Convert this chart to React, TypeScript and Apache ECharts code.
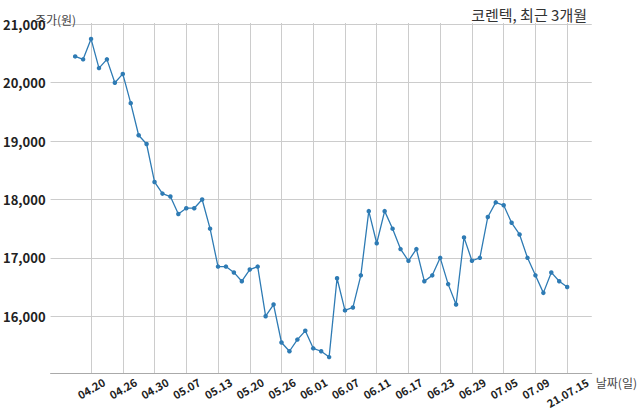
import { useEffect, useRef } from "react";
import * as echarts from "echarts";

// trading days, 2021-04-16 .. 2021-07-15
const dates = [
  "21.04.16", "21.04.19", "21.04.20", "21.04.21", "21.04.22", "21.04.23", "21.04.26", "21.04.27",
  "21.04.28", "21.04.29", "21.04.30", "21.05.03", "21.05.04", "21.05.06", "21.05.07", "21.05.10",
  "21.05.11", "21.05.12", "21.05.13", "21.05.14", "21.05.17", "21.05.18", "21.05.20", "21.05.21",
  "21.05.24", "21.05.25", "21.05.26", "21.05.27", "21.05.28", "21.05.31", "21.06.01", "21.06.02",
  "21.06.03", "21.06.04", "21.06.07", "21.06.08", "21.06.09", "21.06.10", "21.06.11", "21.06.14",
  "21.06.15", "21.06.16", "21.06.17", "21.06.18", "21.06.21", "21.06.22", "21.06.23", "21.06.24",
  "21.06.25", "21.06.28", "21.06.29", "21.06.30", "21.07.01", "21.07.02", "21.07.05", "21.07.06",
  "21.07.07", "21.07.08", "21.07.09", "21.07.12", "21.07.13", "21.07.14", "21.07.15",
];

const prices = [
  20450, 20400, 20750, 20250, 20400, 20000, 20150, 19650,
  19100, 18950, 18300, 18100, 18050, 17750, 17850, 17850,
  18000, 17500, 16850, 16850, 16750, 16600, 16800, 16850,
  16000, 16200, 15550, 15400, 15600, 15750, 15450, 15400,
  15300, 16650, 16100, 16150, 16700, 17800, 17250, 17800,
  17500, 17150, 16950, 17150, 16600, 16700, 17000, 16550,
  16200, 17350, 16950, 17000, 17700, 17950, 17900, 17600,
  17400, 17000, 16700, 16400, 16750, 16600, 16500,
];

const xTicks = [2, 6, 10, 14, 18, 22, 26, 30, 34, 38, 42, 46, 50, 54, 58, 62];
const yTicks = [16000, 17000, 18000, 19000, 20000, 21000];

const FONT = "'Noto Sans CJK KR', 'Noto Sans', sans-serif";
const LINE = "#2e7bb4";

export default function App() {
  const chartRef = useRef<HTMLDivElement>(null);

  useEffect(() => {
    document.body.style.margin = "0";
    if (!chartRef.current) return;
    const chart = echarts.init(chartRef.current, undefined, { renderer: "svg" });

    const last = dates.length - 1;

    chart.setOption({
      animation: false,
      textStyle: { fontFamily: FONT },
      title: {
        text: "코렌텍, 최근 3개월",
        right: 48,
        top: 2,
        textStyle: { fontFamily: FONT, fontSize: 15, fontWeight: "normal", color: "#333" },
      },
      grid: { left: 50, right: 48, top: 23, bottom: 41 },
      xAxis: {
        type: "value",
        min: -3.1,
        max: last + 3.1,
        name: "날짜(일)",
        nameLocation: "end",
        nameGap: 4,
        nameMoveOverlap: false,
        nameTextStyle: {
          fontFamily: FONT,
          fontSize: 12,
          color: "#444",
          align: "left",
          verticalAlign: "top",
          padding: [3, 0, 0, 0],
        },
        axisLine: { show: true, lineStyle: { color: "#aaa", width: 1 } },
        axisTick: { show: false, customValues: xTicks },
        axisLabel: {
          customValues: xTicks,
          rotate: 30,
          align: "center",
          verticalAlign: "middle",
          margin: 15,
          fontFamily: FONT,
          fontSize: 11,
          fontWeight: "bold",
          color: "#222",
          formatter: (v: number) => {
            const i = Math.round(v);
            const d = dates[i] ?? "";
            // the long last label hangs a little lower, as in the original
            return i === last ? `{end|${d}}` : d.slice(3);
          },
          rich: {
            end: {
              fontFamily: FONT,
              fontSize: 11,
              fontWeight: "bold",
              color: "#222",
              padding: [8, 4, 0, 0],
            },
          },
        },
        splitLine: { show: true, lineStyle: { color: "#ccc", width: 1 } },
      },
      yAxis: {
        type: "value",
        min: 15027.5,
        max: 21022.5,
        name: "주가(원)",
        nameLocation: "end",
        nameGap: -2,
        nameMoveOverlap: false,
        nameTextStyle: {
          fontFamily: FONT,
          fontSize: 12,
          color: "#444",
          align: "right",
          verticalAlign: "bottom",
          padding: [0, -1, 0, 0],
        },
        axisLine: { show: false },
        axisTick: { show: false, customValues: yTicks },
        axisLabel: {
          customValues: yTicks,
          margin: 5,
          fontFamily: FONT,
          fontSize: 13,
          fontWeight: "bold",
          color: "#222",
          formatter: (v: number) => v.toLocaleString("en-US"),
        },
        splitLine: { show: true, lineStyle: { color: "#ccc", width: 1 } },
      },
      series: [
        {
          type: "line",
          data: prices.map((p, i) => [i, p]),
          symbol: "circle",
          symbolSize: 4.5,
          showSymbol: true,
          lineStyle: { color: LINE, width: 1.3 },
          itemStyle: { color: LINE },
        },
      ],
    });

    return () => {
      chart.dispose();
    };
  }, []);

  return <div ref={chartRef} style={{ width: 640, height: 414 }} />;
}
